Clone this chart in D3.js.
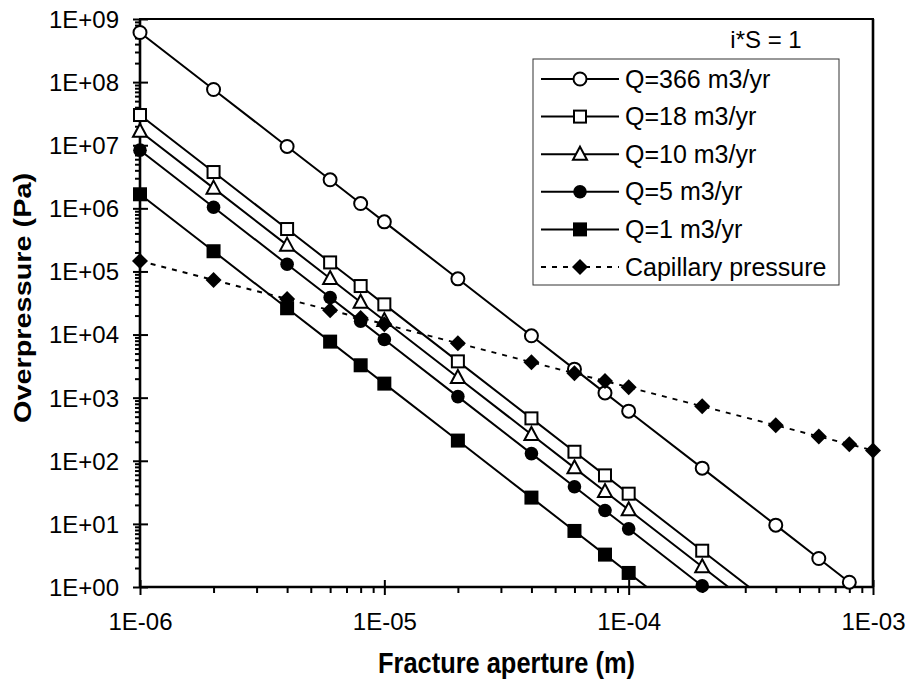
<!DOCTYPE html>
<html><head><meta charset="utf-8">
<script src="https://cdn.jsdelivr.net/npm/d3@7"></script>
<style>
body{margin:0;background:#fff;}
svg text{font-family:"Liberation Sans",Arial,sans-serif;fill:#000;}
</style></head>
<body><svg id="c" width="910" height="686"></svg>
<script>
// ---- data ----
const apertures = [1e-6,2e-6,4e-6,6e-6,8e-6,1e-5,2e-5,4e-5,6e-5,8e-5,1e-4,2e-4,4e-4,6e-4,8e-4,1e-3];
const q366 = [6.11e8,7.64e7,9.55e6,2.83e6,1.19e6,6.11e5,7.64e4,9.55e3,2.83e3,1.19e3,611,76.4,9.55,2.83,1.19,0.611];
const q18  = [3.01e7,3.76e6,4.70e5,1.39e5,5.87e4,3.01e4,3.76e3,470,139,58.7,30.1,3.76,0.470,0.139,0.0587,0.0301];
const q10  = [1.67e7,2.09e6,2.61e5,7.73e4,3.26e4,1.67e4,2.09e3,261,77.3,32.6,16.7,2.09,0.261,0.0773,0.0326,0.0167];
const q5   = [8.35e6,1.04e6,1.30e5,3.87e4,1.63e4,8.35e3,1.04e3,130,38.7,16.3,8.35,1.04,0.130,0.0387,0.0163,0.00835];
const q1   = [1.67e6,2.09e5,2.61e4,7.73e3,3.26e3,1.67e3,209,26.1,7.73,3.26,1.67,0.209,0.0261,0.00773,0.00326,0.00167];
const capillary = [1.46e5,7.3e4,3.65e4,2.43e4,1.83e4,1.46e4,7.3e3,3.65e3,2.43e3,1.83e3,1.46e3,730,365,243,183,146];
const seriesNames = ["Q=366 m3/yr","Q=18 m3/yr","Q=10 m3/yr","Q=5 m3/yr","Q=1 m3/yr","Capillary pressure"];
const xTickLabels = ["1E-06","1E-05","1E-04","1E-03"];
const yTickLabels = ["1E+00","1E+01","1E+02","1E+03","1E+04","1E+05","1E+06","1E+07","1E+08","1E+09"];
const xTitle = "Fracture aperture (m)";
const yTitle = "Overpressure (Pa)";
const note = "i*S = 1";

// ---- layout ----
const L=140, R=873, T=19, B=587;
const svg = d3.select("#c");
const x = d3.scaleLog().domain([1e-6,1e-3]).range([L,R]);
const y = d3.scaleLog().domain([1,1e9]).range([B,T]);

const xMajor = [1e-6,1e-5,1e-4,1e-3];
const yMajor = d3.range(0,10).map(e=>Math.pow(10,e));
const minorOf = (majors)=>{const m=[];majors.slice(0,-1).forEach(v=>{for(let k=2;k<=9;k++)m.push(v*k);});return m;};

// frame
svg.append("rect").attr("x",L).attr("y",T).attr("width",R-L).attr("height",B-T)
  .attr("fill","none").attr("stroke","#000").attr("stroke-width",2);
svg.append("line").attr("x1",R).attr("x2",R).attr("y1",T).attr("y2",B).attr("stroke","#000").attr("stroke-width",2.6);

// x axis
function styleAxis(g){g.select(".domain").remove();g.selectAll("line").attr("stroke","#000").attr("stroke-width",2);}
svg.append("g").attr("transform",`translate(0,${B})`)
  .call(d3.axisBottom(x).tickValues(minorOf(xMajor)).tickSize(6).tickFormat(""))
  .call(styleAxis);
svg.append("g").attr("transform",`translate(0,${B})`)
  .call(d3.axisBottom(x).tickValues(xMajor).tickSize(-7).tickFormat(""))
  .call(styleAxis);
const gx = svg.append("g").attr("transform",`translate(0,${B})`)
  .call(d3.axisBottom(x).tickValues(xMajor).tickSize(8).tickPadding(18).tickFormat((d,i)=>xTickLabels[i]))
  .call(styleAxis);
gx.selectAll("text").attr("font-size",24).attr("dy","0.71em");

// y axis
svg.append("g").attr("transform",`translate(${L},0)`)
  .call(d3.axisLeft(y).tickValues(minorOf(yMajor)).tickSize(5).tickFormat(""))
  .call(styleAxis);
svg.append("g").attr("transform",`translate(${L},0)`)
  .call(d3.axisLeft(y).tickValues(yMajor).tickSize(-8).tickFormat(""))
  .call(styleAxis);
const gy = svg.append("g").attr("transform",`translate(${L},0)`)
  .call(d3.axisLeft(y).tickValues(yMajor).tickSize(7).tickPadding(14).tickFormat((d,i)=>yTickLabels[i]))
  .call(styleAxis);
gy.selectAll("text").attr("font-size",24).attr("dy","0.35em");

// axis lines (thicker)
svg.append("line").attr("x1",L).attr("x2",R).attr("y1",B).attr("y2",B).attr("stroke","#000").attr("stroke-width",2.6);
svg.append("line").attr("x1",L).attr("x2",L).attr("y1",T).attr("y2",B).attr("stroke","#000").attr("stroke-width",2.6);

// titles
svg.append("text").attr("x",(L+R)/2).attr("y",673).attr("text-anchor","middle")
  .attr("font-size",29).attr("font-weight","bold")
  .attr("textLength",257).attr("lengthAdjust","spacingAndGlyphs").text(xTitle);
svg.append("text").attr("transform",`translate(31,${(T+B)/2-5}) rotate(-90)`).attr("text-anchor","middle")
  .attr("font-size",23).attr("font-weight","bold")
  .attr("textLength",250).attr("lengthAdjust","spacingAndGlyphs").text(yTitle);

// clip
svg.append("defs").append("clipPath").attr("id","clip").append("rect")
  .attr("x",L).attr("y",T).attr("width",R-L).attr("height",B-T);

const allSeries = [q366,q18,q10,q5,q1,capillary];
const markerTypes = ["circleOpen","squareOpen","triangleOpen","circleFilled","squareFilled","diamond"];
const line = d3.line().x(d=>x(d[0])).y(d=>y(d[1]));

function drawMarker(g,type,cx,cy){
  const s = g.append("g").attr("transform",`translate(${cx},${cy})`);
  const sw=2;
  if(type==="circleOpen") s.append("circle").attr("r",6.5).attr("fill","#fff").attr("stroke","#000").attr("stroke-width",sw);
  if(type==="circleFilled") s.append("circle").attr("r",6.8).attr("fill","#000");
  if(type==="squareOpen") s.append("rect").attr("x",-6).attr("y",-6).attr("width",12).attr("height",12).attr("fill","#fff").attr("stroke","#000").attr("stroke-width",sw);
  if(type==="squareFilled") s.append("rect").attr("x",-7).attr("y",-7).attr("width",14).attr("height",14).attr("fill","#000");
  if(type==="triangleOpen") s.append("path").attr("d","M0,-7.5L7,5.5L-7,5.5Z").attr("fill","#fff").attr("stroke","#000").attr("stroke-width",sw);
  if(type==="diamond") s.append("path").attr("d","M0,-8L8,0L0,8L-8,0Z").attr("fill","#000");
}

const plot = svg.append("g");
allSeries.forEach((vals,i)=>{
  const pts = apertures.map((a,j)=>[a,vals[j]]);
  plot.append("path").attr("d",line(pts)).attr("fill","none").attr("stroke","#000")
    .attr("stroke-width",2).attr("clip-path","url(#clip)")
    .attr("stroke-dasharray", i===5?"5,6":null);
});
allSeries.forEach((vals,i)=>{
  apertures.forEach((a,j)=>{
    if(vals[j]>=1 && vals[j]<=1e9) drawMarker(plot,markerTypes[i],x(a),y(vals[j]));
  });
});

// note
svg.append("text").attr("x",766).attr("y",48).attr("text-anchor","middle").attr("font-size",24).text(note);

// legend
const lg = svg.append("g");
lg.append("rect").attr("x",533).attr("y",59).attr("width",306).attr("height",226)
  .attr("fill","#fff").attr("stroke","#333").attr("stroke-width",1);
seriesNames.forEach((n,i)=>{
  const cy = 79 + i*37.6;
  lg.append("line").attr("x1",541).attr("x2",619).attr("y1",cy).attr("y2",cy)
    .attr("stroke","#000").attr("stroke-width",2).attr("stroke-dasharray",i===5?"5,6":null);
  drawMarker(lg,markerTypes[i],580,cy);
  lg.append("text").attr("x",625).attr("y",cy+8.5).attr("font-size",25).text(n);
});
</script></body></html>
